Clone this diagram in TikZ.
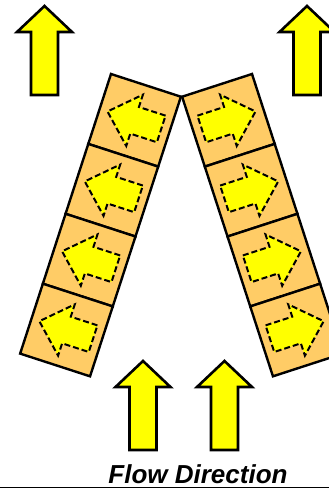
\documentclass[tikz,border=0pt]{standalone}
\usepackage{fontspec}
\setmainfont{Liberation Sans}
\usetikzlibrary{calc}
\definecolor{amber}{HTML}{FFCC66}
\definecolor{lemon}{HTML}{FFFF00}

\begin{document}
\begin{tikzpicture}[x=1pt,y=1pt,
 cell/.style={draw=black,fill=amber,line width=2.4pt,minimum size=73.5pt,inner sep=0pt},
 bigarrow/.pic={\draw[fill=lemon,line width=2.6pt,line join=miter]
   (-13.5,0)--(-13.5,63)--(-27.5,63)--(0,89)--(27.5,63)--(13.5,63)--(13.5,0)--cycle;},
 flowarrow/.pic={\draw[fill=lemon,line width=2pt,dash pattern=on 6pt off 3pt]
   (-28,14)--(0,14)--(0,27)--(28.5,0)--(0,-27)--(0,-14)--(-28,-14)--cycle;},
 flowlabel/.style={font=\fontsize{26}{29}\selectfont\bfseries\itshape,inner sep=0pt}]
\useasboundingbox (0,0) rectangle (329,488);
% left strip, arrows to the left
\begin{scope}[shift={(111,414)},rotate=-18,transform shape]
\foreach \k in {1,...,4}{
 \node[cell] (lcell\k) at (36.75,{36.75-73.5*\k}) {};
 \pic[xscale=-1] at (lcell\k) {flowarrow};}
\end{scope}
% right strip, arrows to the right
\begin{scope}[shift={(252,414)},rotate=18,transform shape]
\foreach \k in {1,...,4}{
 \node[cell] (rcell\k) at (-36.75,{36.75-73.5*\k}) {};
 \pic at (rcell\k) {flowarrow};}
\end{scope}
% flow arrows
\pic at (44.5,393) {bigarrow};
\pic at (307,393) {bigarrow};
\pic at (143,38) {bigarrow};
\pic at (224.5,38) {bigarrow};
\node[flowlabel,anchor=base] (flow) at (198,5) {Flow Direction};
\draw[line width=1pt] (0,0.5)--(329,0.5);
\end{tikzpicture}
\end{document}
